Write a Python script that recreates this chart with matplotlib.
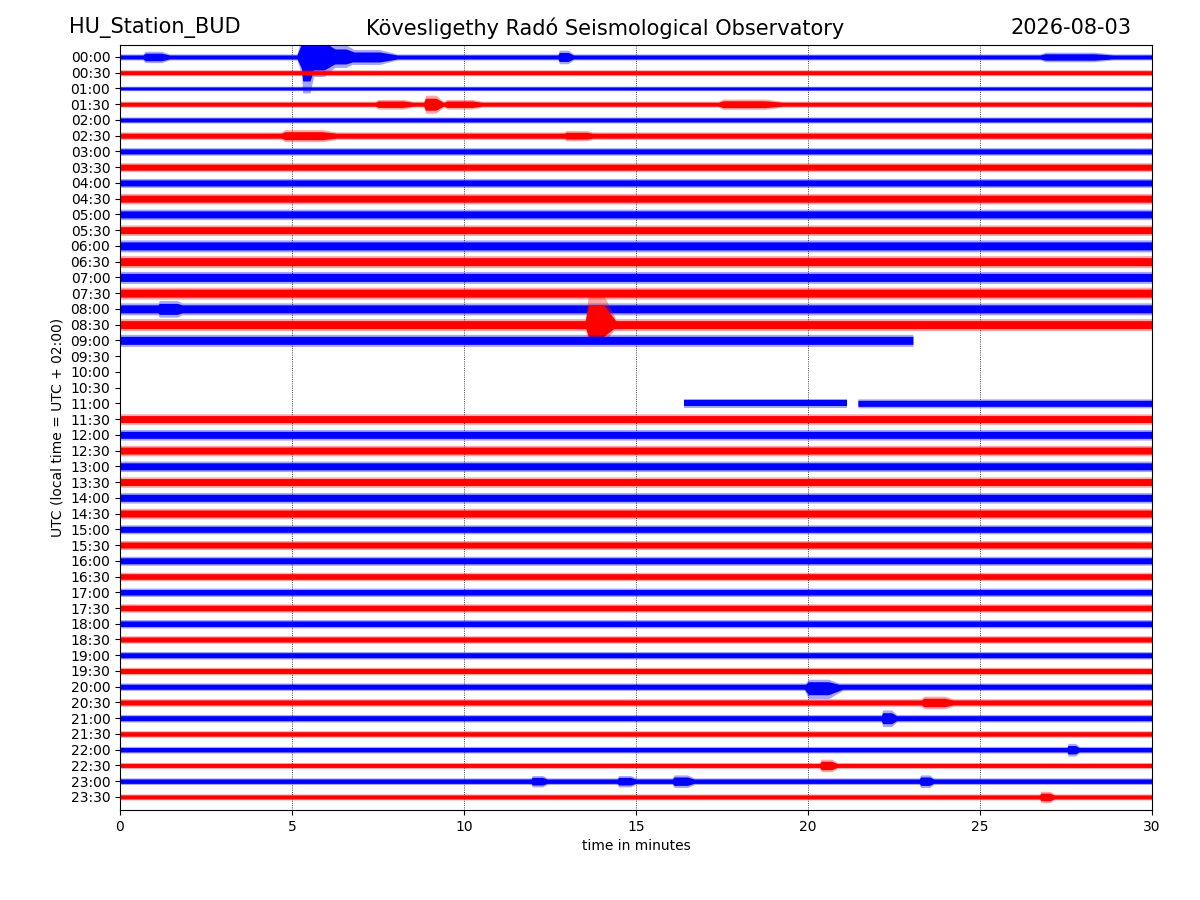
import numpy as np
import matplotlib
matplotlib.use("Agg")
import matplotlib.pyplot as plt

# ---------------- data ----------------
station = "HU_Station_BUD"
observatory = "Kövesligethy Radó Seismological Observatory"
date_str = "2026-08-03"

row_labels = ["%02d:%02d" % (h, m) for h in range(24) for m in (0, 30)]

# typical half-amplitude of the background noise per row (trace units)
row_noise = [2.0, 2.0, 1.5, 2.0, 2.0, 2.5, 2.5, 3.0, 3.0, 3.5, 3.5, 3.5,
             4.0, 4.0, 4.0, 4.0, 4.0, 4.0, 4.0, 0.0, 0.0, 0.0, 3.0, 3.5,
             3.5, 3.5, 3.5, 3.5, 3.5, 3.5, 3.0, 3.0, 3.0, 2.8, 2.8, 2.8,
             2.8, 2.5, 2.5, 2.5, 2.5, 2.5, 2.5, 2.2, 2.2, 2.0, 2.2, 2.0]

# recorded data segments (row, start minute, end minute)
segments = [(r, 0.0, 30.0) for r in range(18)] + [
    (18, 0.0, 23.05),
    (22, 16.4, 21.15), (22, 21.45, 30.0),
] + [(r, 0.0, 30.0) for r in range(23, 48)]

# events: (row, start minute, end minute, amplitude up, amplitude down)
events = [
    (0, 0.6, 1.7, 3.8, 3.8),
    (0, 5.12, 6.6, 15.0, 13.0),
    (0, 5.25, 5.75, 15.0, 24.0),
    (0, 5.8, 7.2, 8.0, 7.0),
    (0, 6.5, 8.4, 5.0, 5.0),
    (0, 12.7, 13.3, 4.5, 4.5),
    (0, 26.5, 29.8, 3.2, 3.2),
    (3, 7.3, 9.0, 3.2, 3.2),
    (3, 8.8, 9.5, 6.0, 6.0),
    (3, 9.3, 11.0, 3.2, 3.2),
    (3, 17.2, 20.0, 3.4, 3.4),
    (5, 4.5, 7.0, 4.0, 4.0),
    (5, 12.8, 14.2, 3.4, 3.4),
    (16, 1.0, 2.2, 5.5, 5.5),
    (17, 13.5, 14.5, 20.0, 12.0),
    (40, 19.85, 21.2, 5.0, 8.0),
    (41, 23.2, 24.6, 4.2, 4.2),
    (42, 22.1, 22.7, 5.5, 5.5),
    (44, 27.5, 28.0, 4.2, 4.2),
    (45, 20.3, 21.0, 4.2, 4.2),
    (46, 11.9, 12.6, 3.8, 3.8),
    (46, 14.4, 15.2, 3.8, 3.8),
    (46, 16.0, 16.9, 4.2, 4.2),
    (46, 23.2, 23.8, 4.2, 4.2),
    (47, 26.7, 27.3, 3.8, 3.8),
]

colors = ["#0000ff", "#ff0000"]
row_spacing = 15.74  # trace units per row

# ---------------- figure ----------------
fig = plt.figure(figsize=(12, 9), dpi=100)
ax = fig.add_axes([0.1, 0.1, 0.86, 0.85])


def shape(tt, e0, e1):
    # trapezoid envelope: quick rise, plateau, tapering end
    d = e1 - e0
    return np.interp(tt, [e0, e0 + 0.12 * d, e0 + 0.55 * d, e1],
                     [0.0, 1.0, 1.0, 0.0], left=0.0, right=0.0)


t = np.linspace(0, 30, 3001)
n = len(row_labels)
for (r, t0, t1) in segments:
    m = (t >= t0) & (t <= t1)
    tt = t[m]
    up = np.full(tt.shape, row_noise[r])
    dn = np.full(tt.shape, row_noise[r])
    for (er, e0, e1, au, ad) in events:
        if er != r:
            continue
        s = shape(tt, e0, e1)
        up = np.maximum(up, au * s)
        dn = np.maximum(dn, ad * s)
    y0 = -r
    c = colors[r % 2]
    ax.fill_between(tt, y0 - 1.5 * dn / row_spacing, y0 + 1.5 * up / row_spacing,
                    color=c, alpha=0.35, linewidth=0)
    ax.fill_between(tt, y0 - dn / row_spacing, y0 + up / row_spacing,
                    color=c, linewidth=0)

ax.set_xlim(0, 30)
ax.set_ylim(-(n - 1) - 0.83, 0.76)
ax.set_yticks([-i for i in range(n)])
ax.set_yticklabels(row_labels)
ax.set_xticks(range(0, 31, 5))
ax.grid(axis="x", color="black", linestyle=":", linewidth=0.6)
ax.set_axisbelow(True)
ax.set_xlabel("time in minutes")
ax.set_ylabel("UTC (local time = UTC + 02:00)")

fig.text(0.0575, 0.969, station, fontsize=15, ha="left", va="center")
fig.text(0.504, 0.969, observatory, fontsize=15, ha="center", va="center")
fig.text(0.9425, 0.969, date_str, fontsize=15, ha="right", va="center")

fig.savefig("out.png", dpi=100)
